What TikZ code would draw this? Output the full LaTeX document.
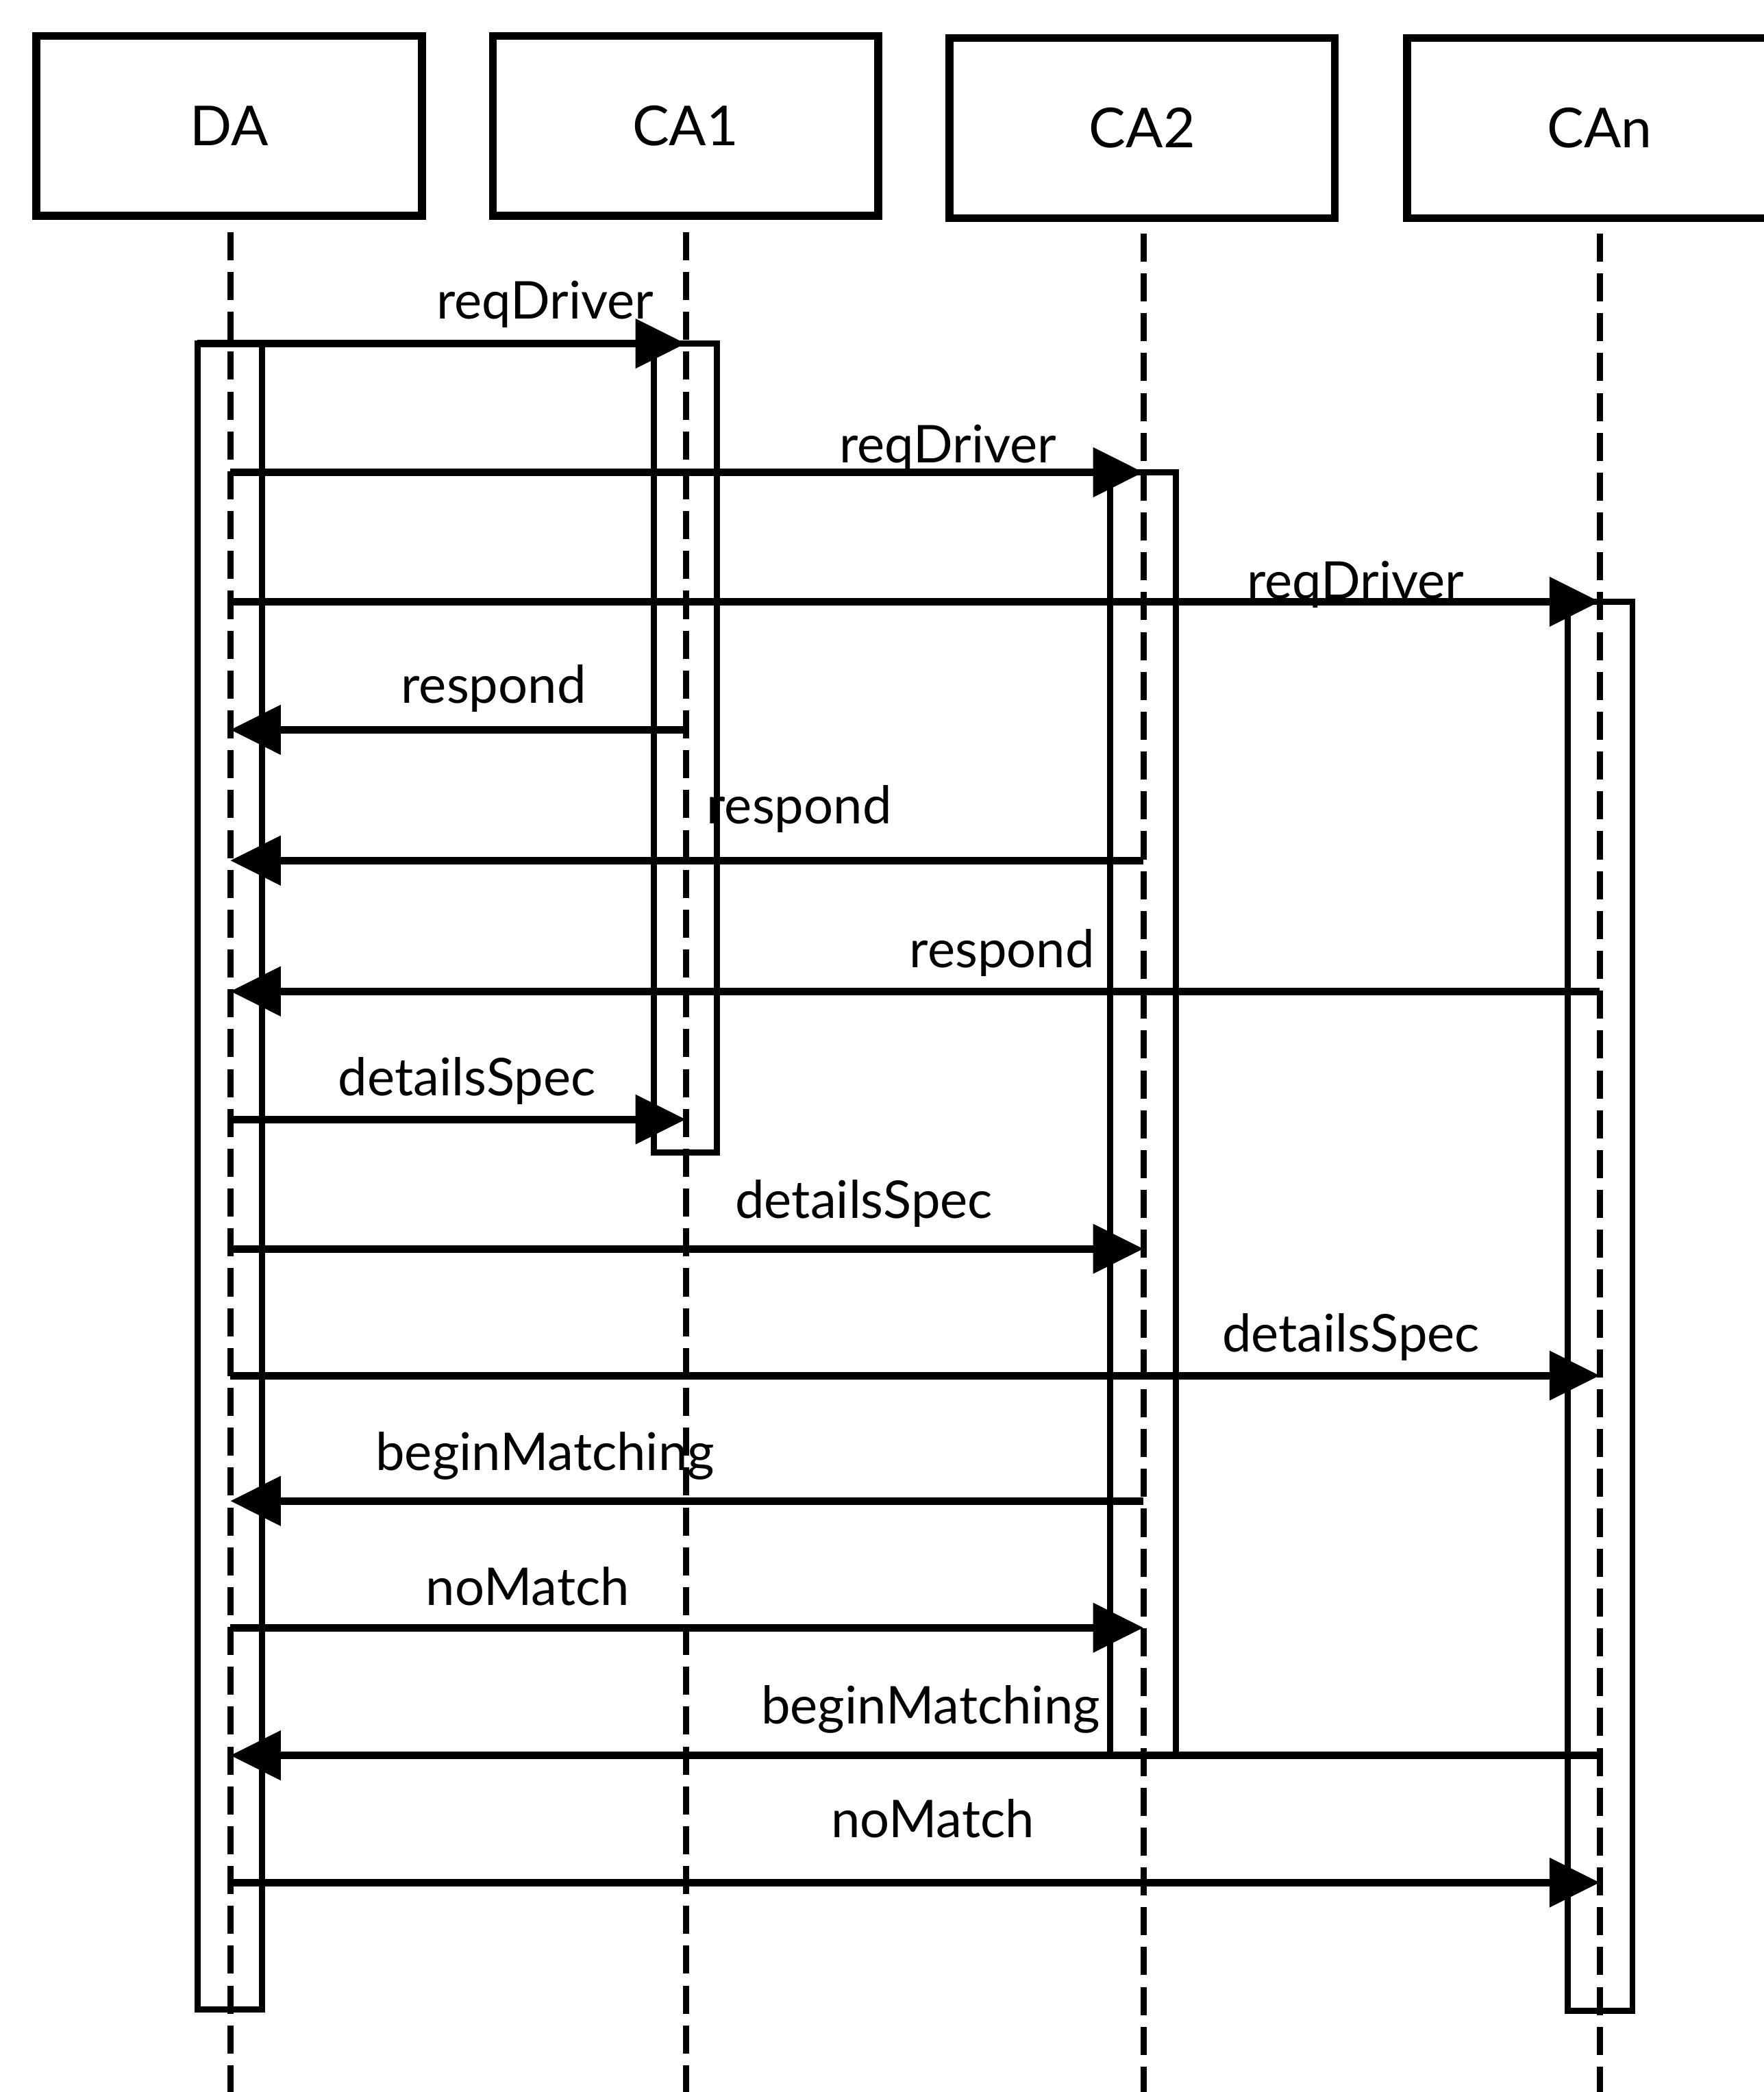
\documentclass[tikz,border=0pt]{standalone}
\usepackage{fontspec}
\setmainfont{Lato}
\usetikzlibrary{arrows.meta}
\begin{document}
\begin{tikzpicture}[x=0.02cm,y=-0.02cm,
  hdr/.style={draw, line width=3.3pt, minimum width=5.78cm, minimum height=2.70cm, inner sep=0pt, font=\fontsize{23.5}{27}\selectfont},
  life/.style={line width=2.6pt, dash pattern=on 12pt off 5pt},
  act/.style={line width=2.6pt},
  msg/.style={line width=3.2pt, -{Triangle[length=21.5pt,width=20.5pt]}},
  lbl/.style={anchor=base, inner sep=0pt, font=\fontsize{22.2}{26}\selectfont}]
\clip (0,0) rectangle (1322,1568);
\fill[white] (0,0) rectangle (1322,1568);
% headers
\node[hdr] (DA)  at (171.75,94.3) {DA};
\node[hdr] (CA1) at (513.75,94.3) {CA1};
\node[hdr] (CA2) at (856,96) {CA2};
\node[hdr] (CAn) at (1199,96) {CAn};
% lifelines
\coordinate (DAt) at (172.6,174);  \coordinate (DAb) at (172.6,1568);
\coordinate (C1t) at (514,174);    \coordinate (C1b) at (514,1568);
\coordinate (C2t) at (857,175);    \coordinate (C2b) at (857,1568);
\coordinate (Cnt) at (1199,175);   \coordinate (Cnb) at (1199,1568);
\draw[life] (DAt) -- (DAb);
\draw[life] (C1t) -- (C1b);
\draw[life] (C2t) -- (C2b);
\draw[life] (Cnt) -- (Cnb);
% activation boxes
\draw[act] (148,257.5) rectangle (196.5,1506);
\draw[act] (490,257.5) rectangle (537.5,864);
\draw[act] (832,354) rectangle (881.5,1315.7);
\draw[act] (1175,451) rectangle (1223.5,1507);
% message endpoints
\coordinate (a1) at (148,257.5);   \coordinate (b1) at (514,257.5);
\coordinate (a2) at (172.6,354);   \coordinate (b2) at (857,354);
\coordinate (a3) at (172.6,451);   \coordinate (b3) at (1199,451);
\coordinate (a4) at (514,547);     \coordinate (b4) at (172.6,547);
\coordinate (a5) at (857,645);     \coordinate (b5) at (172.6,645);
\coordinate (a6) at (1199,743);    \coordinate (b6) at (172.6,743);
\coordinate (a7) at (172.6,839);   \coordinate (b7) at (514,839);
\coordinate (a8) at (172.6,936);   \coordinate (b8) at (857,936);
\coordinate (a9) at (172.6,1031);  \coordinate (b9) at (1199,1031);
\coordinate (a10) at (857,1125);   \coordinate (b10) at (172.6,1125);
\coordinate (a11) at (172.6,1220); \coordinate (b11) at (857,1220);
\coordinate (a12) at (1199,1315.7);\coordinate (b12) at (172.6,1315.7);
\coordinate (a13) at (172.6,1411); \coordinate (b13) at (1199,1411);
\foreach \i in {1,...,13} {\draw[msg] (a\i) -- (b\i);}
% labels
\node[lbl] (l1)  at (408.5,239)  {reqDriver};
\node[lbl] (l2)  at (710.5,347)  {reqDriver};
\node[lbl] (l3)  at (1016,449)   {reqDriver};
\node[lbl] (l4)  at (370,527)    {respond};
\node[lbl] (l5)  at (599,617.5)  {respond};
\node[lbl] (l6)  at (751,725)    {respond};
\node[lbl] (l7)  at (350,821)    {detailsSpec};
\node[lbl] (l8)  at (647.5,913)  {detailsSpec};
\node[lbl] (l9)  at (1012.5,1013){detailsSpec};
\node[lbl] (l10) at (408.5,1102) {beginMatching};
\node[lbl] (l11) at (395.5,1203) {noMatch};
\node[lbl] (l12) at (697.5,1292) {beginMatching};
\node[lbl] (l13) at (699,1377)   {noMatch};
\end{tikzpicture}
\end{document}
